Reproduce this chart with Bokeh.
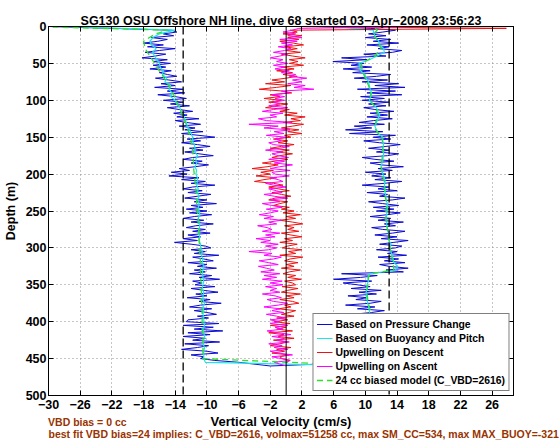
from bokeh.plotting import figure
from bokeh.models import (Range1d, Span, Legend, LegendItem, LinearAxis, Title,
                          FixedTicker, CustomJSTickFormatter)
from bokeh.embed import file_html
from bokeh.resources import INLINE

# ---------------- data ----------------
title_text = "SG130 OSU Offshore NH line, dive 68 started 03\u2212Apr\u22122008 23:56:23"
x_label = "Vertical Velocity (cm/s)"
y_label = "Depth (m)"
note_1 = "VBD bias = 0 cc"
note_2 = "best fit VBD bias=24 implies: C_VBD=2616, volmax=51258 cc, max SM_CC=534, max MAX_BUOY=-321"

x_min, x_max = -30, 28.7
y_top, y_bottom = 0, 500
x_ticks = [-30, -26, -22, -18, -14, -10, -6, -2, 2, 6, 10, 14, 18, 22, 26]
x_tick_labels = ["\u221230", "\u221226", "\u221222", "\u221218", "\u221214", "\u221210",
                 "\u22126", "\u22122", "2", "6", "10", "14", "18", "22", "26"]
y_ticks = [0, 50, 100, 150, 200, 250, 300, 350, 400, 450, 500]
note_1_center = -25.1          # x position (cm/s) under which note 1 is centred

zero_line = 0
bound_lines = [-13, 13]

fine_step, coarse_step = 2.5, 5    # depth sampling (m)
bottom_depth = 460                 # deepest point of the dive (m)

# vertical velocity from pressure change (cm/s), descent 0 -> 455 m every 2.5 m
w_press_desc = [
    -30.0, -22.0, -14.5, -13.8, -15.5, -14.2, -17.0, -15.0, -16.2, -18.0,
    -15.5, -17.5, -14.0, -16.0, -17.8, -15.2, -16.5, -18.2, -15.0, -16.8,
    -14.6, -16.8, -15.2, -17.2, -14.5, -16.0, -15.0, -13.8, -16.5, -14.8,
    -13.2, -15.8, -14.0, -16.6, -13.0, -15.0, -12.8, -16.2, -14.0, -12.6,
    -15.5, -13.0, -14.6, -12.2, -15.0, -13.5, -11.8, -14.2, -12.5, -13.8,
    -11.0, -14.0, -12.6, -10.8, -13.5, -11.5, -12.8, -10.5, -13.2, -11.0,
    -9.0, -12.5, -10.8, -13.2, -11.2, -9.6, -12.2, -10.5, -12.8, -11.0,
    -9.2, -11.8, -13.0, -10.6, -12.0, -9.8, -11.5, -13.5, -12.2, -14.5,
    -12.5, -14.8, -11.0, -13.2, -10.2, -12.0, -9.0, -11.8, -13.0, -10.6,
    -12.4, -9.5, -11.2, -12.8, -10.0, -11.6, -8.8, -12.0, -10.5, -12.6,
    -10.0, -12.2, -9.4, -11.6, -13.0, -10.4, -12.0, -9.2, -11.4, -12.6,
    -10.2, -11.8, -9.6, -12.4, -10.8, -13.0, -11.2, -14.1, -12.0, -10.2,
    -9.5, -12.0, -10.2, -11.6, -8.5, -11.8, -10.4, -9.2, -12.4, -10.0,
    -11.2, -8.8, -11.6, -10.2, -12.2, -9.4, -11.0, -8.4, -11.8, -10.6,
    -11.5, -9.0, -12.0, -10.4, -8.6, -11.4, -10.0, -12.5, -9.6, -11.0,
    -8.2, -10.8, -12.2, -9.4, -11.6, -10.0, -8.8, -11.2, -9.8, -12.4,
    -12.6, -8.5, -13.0, -9.2, -11.6, -8.0, -12.4, -9.6, -13.0, -10.2,
    -11.8, -8.4, -12.8, -9.8, -11.2, -13.2, -10.0, -8.6, -12.0, -10.4,
    -10.8, -9.0, -6.0]
# ascent 460 -> 0 m every 2.5 m
w_press_asc = [
    -2.0, 4.0, 9.5, 12.5, 11.0,
    13.0, 10.2, 12.8, 9.8, 11.6, 13.6, 10.4, 12.2, 9.6, 13.2,
    11.0, 12.6, 9.4, 11.8, 13.4, 10.6, 12.0, 9.8, 12.8, 11.2,
    12.0, 9.6, 11.2, 8.4, 10.8, 12.4, 9.0, 11.2, 7.5, 10.6,
    12.0, 8.8, 10.2, 7.8, 11.4, 9.2, 12.0, 8.2, 10.6, 9.0,
    7.2, 10.8, 6.0, 9.4, 11.5, 7.0, 14.8, 12.6, 15.4, 13.0,
    11.8, 15.0, 12.4, 14.2, 11.6, 15.2, 12.8, 14.0, 11.4, 13.8,
    14.6, 11.8, 13.6, 15.4, 12.0, 14.0, 11.2, 13.4, 15.0, 12.2,
    10.8, 13.8, 12.4, 14.8, 11.6, 13.2, 10.6, 12.8, 14.4, 11.4,
    13.6, 11.0, 14.2, 12.2, 10.4, 13.4, 15.0, 11.8, 12.8, 10.2,
    14.0, 11.6, 13.0, 9.6, 12.4, 14.6, 11.2, 13.2, 10.8, 12.6,
    10.0, 13.4, 11.6, 14.8, 12.0, 10.6, 13.6, 11.2, 9.6, 12.8,
    14.2, 11.4, 13.0, 10.4, 12.6, 14.4, 11.8, 9.8, 13.2, 11.0,
    13.8, 8.0, 12.2, 7.5, 10.8, 8.6, 12.4, 9.2, 11.0, 13.4,
    10.2, 12.8, 10.6, 13.6, 11.2, 9.8, 12.6, 10.4, 13.0, 9.6,
    12.4, 9.4, 14.6, 10.2, 13.8, 9.0, 15.0, 11.2, 14.2, 9.6,
    12.8, 8.6, 11.4, 13.2, 8.4, 10.6, 7.2, 10.8, 8.2, 9.8,
    5.9, 10.2, 7.0, 12.6, 9.8, 13.4, 14.6, 11.6, 13.0, 10.2,
    14.2, 11.0, 13.2, 10.0, 12.6, 10.4, 12.2, 13.8, 10.6, 4.0]

# vertical velocity from buoyancy and pitch (cm/s), every 5 m
w_buoy_desc = [
    -28.0, -14.0, -16.0, -16.8, -17.2, -17.0, -16.4, -16.9, -16.6, -16.3,
    -16.0, -15.9, -15.5, -15.6, -15.1, -15.3, -14.6, -14.8, -14.4, -14.6,
    -14.0, -13.8, -13.4, -13.3, -13.0, -12.8, -12.6, -12.5, -12.2, -12.0,
    -11.8, -11.8, -11.6, -11.5, -11.5, -11.2, -11.4, -11.3, -11.5, -11.3,
    -11.4, -11.2, -11.2, -11.3, -11.1, -11.2, -11.0, -11.2, -11.0, -11.1,
    -11.0, -10.9, -11.1, -11.0, -10.9, -11.0, -11.1, -10.9, -11.0, -10.8,
    -10.8, -10.6, -10.7, -10.5, -10.6, -10.4, -10.5, -10.6, -10.5, -10.4,
    -10.5, -10.6, -10.4, -10.5, -10.5, -10.3, -10.5, -10.4, -10.5, -10.4,
    -10.4, -10.3, -10.5, -10.4, -10.3, -10.4, -10.5, -10.3, -10.4, -10.4,
    -10.4, -10.2]
w_buoy_asc = [
    11.0, 11.2, 11.5, 11.7, 11.8, 11.6, 11.6, 11.4, 11.5, 11.3,
    11.4, 11.3, 11.3, 10.9, 10.6, 10.5, 10.4, 10.3, 10.2, 10.1,
    10.1, 10.2, 10.2, 10.4, 10.3, 10.5, 13.8, 14.1, 13.6, 13.5,
    13.4, 13.2, 13.1, 13.2, 13.0, 13.0, 12.9, 12.8, 12.7, 12.7,
    12.6, 12.7, 12.7, 12.8, 12.8, 12.6, 12.6, 12.5, 12.5, 12.4,
    12.5, 12.4, 12.2, 12.1, 12.0, 12.1, 12.2, 12.3, 12.3, 12.2,
    12.3, 12.2, 12.2, 11.6, 11.4, 11.2, 11.4, 11.6, 11.8, 11.6,
    11.4, 10.9, 10.5, 10.7, 10.8, 10.6, 10.5, 10.4, 10.1, 9.9,
    9.4, 9.3, 9.2, 10.5, 11.5, 12.4, 12.3, 11.8, 11.7, 11.3,
    11.1, 11.0, 6.0]

# upwelling (cm/s), every 2.5 m
upwell_desc = [
    1.0, 27.8, 0.5, 1.4, -0.4, 2.0, 0.2, 1.6, -0.8, 0.9,
    2.2, -0.2, 1.4, 0.0, 1.8, -0.6, 0.8, 2.4, 0.4, 1.5,
    0.4, 2.2, -0.6, 1.0, -1.2, 0.8, -0.4, 1.4, 0.0, -1.8,
    -0.2, -2.6, 0.6, -1.2, -3.4, -0.4, 0.7, -2.0, -0.8, -2.8,
    -0.6, -2.2, 0.2, -1.4, -2.6, 0.4, -0.8, 1.4, -0.2, 2.4,
    0.6, 1.8, -0.4, 2.2, 0.8, -0.6, 1.6, 0.2, 2.0, -0.2,
    0.6, -1.6, 0.2, -1.0, 1.0, -0.6, -2.0, 0.4, -1.2, 0.8,
    -0.8, -1.8, 0.2, -1.4, -3.0, -1.0, -2.4, -4.3, -1.6, -3.2,
    -2.0, -3.8, -1.2, -2.8, -4.0, -1.6, -0.4, -2.2, -1.0, 0.4,
    -1.8, -0.6, 0.6, -1.4, -2.2, 0.2, -0.8, -1.6, 0.4, -0.6,
    1.0, -0.4, 1.8, 0.0, 1.2, -0.8, 0.8, 2.1, -0.2, 1.0,
    0.2, 1.6, -0.6, 0.6, 2.0, -0.2, 0.8, -0.8, 1.4, 0.2,
    -0.5, 2.0, 0.3, 1.2, -0.8, 2.1, 0.5, -0.2, 1.5, 0.0,
    1.0, -0.6, 1.8, 0.4, -0.4, 1.2, 0.2, 1.9, -0.2, 0.8,
    1.2, -0.5, 1.5, 0.2, -0.6, 1.8, 0.0, 1.0, -0.8, 0.8,
    1.6, -0.2, 0.6, -1.0, 1.2, 0.4, -0.6, 1.0, -1.2, 0.2,
    -1.5, 0.5, -2.0, 0.0, -1.2, 0.8, -2.2, -0.3, -1.0, 1.0,
    -1.6, 0.2, -0.8, -2.0, 0.6, -1.2, -0.2, -1.8, 0.4, -0.8,
    -0.5, 0.5, 0.0]
upwell_asc = [
    0.0, -0.8, -1.5, 0.5, -0.6,
    -1.8, 0.8, -1.0, -2.0, 0.2, -1.5, -0.5, -2.2, 0.4, -1.2,
    -0.2, -1.8, 0.6, -1.0, -2.4, -0.4, -1.4, 0.2, -2.0, -0.8,
    -2.0, 0.0, -1.2, -2.5, -0.3, -1.8, -0.8, -2.8, -1.0, 0.2,
    -1.6, -2.4, -0.6, -1.4, -3.0, -0.8, -2.0, -1.2, -2.6, -0.4,
    -2.0, -0.5, -3.0, -1.2, -2.8, -0.8, -3.2, -1.5, -2.5, -3.5,
    -1.0, -2.2, -3.4, -1.6, -0.6, -2.8, -1.8, -4.7, -2.2, -1.2,
    -2.6, -1.0, -3.2, -2.0, -3.8, -1.4, -2.6, -0.8, -3.0, -1.8,
    -2.4, -3.6, -1.2, -2.2, -0.6, -2.8, -1.6, -3.4, -2.0, -1.0,
    -2.5, -0.5, -1.8, -3.0, -0.8, -2.0, 0.2, -1.5, -2.8, -0.5,
    -1.2, -2.2, 0.0, -1.6, -2.6, -0.4, -1.0, -2.0, 0.4, -1.4,
    -1.8, 0.5, -2.0, -0.8, 0.8, -1.5, -0.2, -2.2, 0.3, -1.0,
    -1.8, -0.4, -2.6, -0.8, 0.4, -1.6, -2.2, -0.6, -1.4, 0.0,
    -2.5, -0.3, -1.5, 0.5, -2.8, -1.0, -4.7, 0.75, -2.5, -3.5,
    -1.2, -2.0, -0.4, -3.0, -1.6, 0.2, -2.2, -0.8, -1.6, -0.2,
    -1.4, -0.2, -1.8, 0.4, -0.6, 3.5, 1.0, 2.4, 0.2, 2.0,
    0.8, 2.6, 0.4, 1.2, -0.6, 0.4, -1.4, -0.2, -1.6, 0.2,
    -1.2, -0.4, -2.0, -0.8, 0.2, -1.6, -0.2, 0.6, -1.0, 0.8,
    -0.6, 1.4, -0.8, 2.0, 0.2, 1.2, -0.4, 0.8, 1.6, 18.0]

# 24 cc biased model (cm/s)
model_desc_depth = [0, 5, 10, 20, 30, 40, 50, 60, 70, 80, 90, 100, 110, 120, 130, 140,
                    150, 160, 170, 180, 190, 200, 210, 220, 230, 240, 250, 260, 270,
                    280, 290, 300, 310, 320, 330, 340, 350, 360, 370, 380, 390, 400,
                    410, 420, 430, 440, 450]
model_desc = [-32.0, -15.0, -16.5, -18.0, -17.8, -17.2, -16.6, -16.0, -15.4, -14.8,
              -14.3, -13.9, -13.5, -13.1, -12.7, -12.4, -12.1, -11.9, -11.8, -11.7,
              -11.7, -11.6, -11.5, -11.4, -11.3, -11.3, -11.2, -11.1, -11.1, -11.0,
              -11.0, -10.9, -10.9, -10.8, -10.8, -10.8, -10.7, -10.7, -10.7, -10.6,
              -10.6, -10.6, -10.6, -10.5, -10.5, -10.5, -10.5]
model_asc_depth = [460, 450, 440, 430, 420, 410, 400, 390, 380, 370, 360, 350, 340, 335,
                   330, 320, 310, 300, 290, 280, 270, 260, 250, 240, 230, 220, 210, 200,
                   190, 180, 170, 160, 150, 140, 130, 120, 110, 100, 90, 80, 70, 60, 50,
                   40, 30, 20, 10, 5, 0]
model_asc = [11.0, 11.6, 11.8, 11.6, 11.5, 11.4, 11.2, 10.8, 10.5, 10.3, 10.2, 10.3, 10.4,
             10.6,
             13.6, 13.5, 13.3, 13.1, 13.0, 12.9, 12.7, 12.6, 12.6, 12.7, 12.5, 12.4, 12.4,
             12.1, 12.0, 12.1, 12.2, 12.2, 12.1, 11.3, 11.3, 11.6, 11.3, 10.6, 10.7, 10.4,
             10.0, 9.6, 9.5, 11.2, 12.0, 11.6, 11.0,
             11.5, 11.0]

series_names = ["Based on Pressure Change", "Based on Buoyancy and Pitch",
                "Upwelling on Descent", "Upwelling on Ascent",
                "24 cc biased model (C_VBD=2616)"]


def down_depths(values, step):
    return [i * step for i in range(len(values))]


def up_depths(values, step):
    return [bottom_depth - i * step for i in range(len(values))]


# ---------------- style ----------------
FONT = "Liberation Sans"
BROWN = "#993300"
C_BLUE = "#0a0ad2"
C_CYAN = "#1ee6e6"
C_RED = "#ee1111"
C_MAG = "#ff00ff"
C_GREEN = "#2ee02e"

p = figure(width=560, height=442,
           x_range=Range1d(x_min, x_max), y_range=Range1d(y_bottom, y_top),
           output_backend="svg", toolbar_location=None, title=title_text,
           min_border_left=45, min_border_right=47, min_border_top=26,
           min_border_bottom=47)
p.background_fill_color = "white"
p.border_fill_color = "white"
p.outline_line_color = "black"
p.outline_line_width = 1

p.title.align = "center"
p.title.text_font = FONT
p.title.text_font_style = "bold"
p.title.text_font_size = "12.5px"
p.title.text_color = "black"
p.title.standoff = -2

for ax in (p.xaxis[0], p.yaxis[0]):
    ax.major_label_text_font = FONT
    ax.major_label_text_font_style = "bold"
    ax.major_label_text_font_size = "12.5px"
    ax.major_label_text_color = "black"
    ax.axis_label_text_font = FONT
    ax.axis_label_text_font_style = "bold"
    ax.axis_label_text_color = "black"
    ax.major_tick_in = 5
    ax.major_tick_out = 0
    ax.minor_tick_line_color = None
    ax.axis_line_color = "black"
    ax.major_tick_line_color = "black"

p.xaxis.ticker = FixedTicker(ticks=x_ticks)
p.xaxis.major_label_overrides = dict(zip(x_ticks, x_tick_labels))
p.xaxis.axis_label = x_label
p.xaxis.axis_label_text_font_size = "13px"
p.xaxis.major_label_standoff = 4
p.xaxis.axis_label_standoff = 2

p.yaxis.ticker = FixedTicker(ticks=y_ticks)
p.yaxis.axis_label = y_label
p.yaxis.axis_label_text_font_size = "12.5px"
p.yaxis.major_label_standoff = 2
p.yaxis.axis_label_standoff = 5

# second note (placed right under the x axis)
p.add_layout(Title(text=note_2, align="left", vertical_align="top", standoff=-7,
                   text_color=BROWN, text_font=FONT, text_font_style="bold",
                   text_font_size="10.5px"), "below")
# first note, lifted onto the row of the x-axis title
note_axis = LinearAxis(ticker=FixedTicker(ticks=[note_1_center]),
                       major_label_overrides={note_1_center: note_1},
                       major_label_text_color=BROWN, major_label_text_font=FONT,
                       major_label_text_font_style="bold",
                       major_label_text_font_size="10.5px",
                       major_label_standoff=-23, major_tick_in=0, major_tick_out=0,
                       major_tick_line_color=None, minor_tick_line_color=None,
                       axis_line_color=None)
p.add_layout(note_axis, "below")

# box ticks on top and right
blank = CustomJSTickFormatter(code="return ''")
top_ax = LinearAxis(ticker=FixedTicker(ticks=x_ticks), formatter=blank,
                    major_tick_in=5, major_tick_out=0, minor_tick_line_color=None,
                    major_label_standoff=0, major_label_text_font_size="1px")
right_ax = LinearAxis(ticker=FixedTicker(ticks=y_ticks), formatter=blank,
                      major_tick_in=5, major_tick_out=0, minor_tick_line_color=None,
                      major_label_standoff=0, major_label_text_font_size="1px")
p.add_layout(top_ax, "above")
p.add_layout(right_ax, "right")

p.xgrid.ticker = FixedTicker(ticks=x_ticks)
p.ygrid.ticker = FixedTicker(ticks=y_ticks)
p.grid.grid_line_color = "#8c8c8c"
p.grid.grid_line_dash = "1 3"
p.grid.grid_line_width = 1

# data lines
r_blue = p.line(w_press_desc + w_press_asc,
                down_depths(w_press_desc, fine_step) + up_depths(w_press_asc, fine_step),
                line_color=C_BLUE, line_width=1)
r_cyan = p.line(w_buoy_desc + w_buoy_asc,
                down_depths(w_buoy_desc, coarse_step) + up_depths(w_buoy_asc, coarse_step),
                line_color=C_CYAN, line_width=1.2)
r_red = p.line(upwell_desc, down_depths(upwell_desc, fine_step),
               line_color=C_RED, line_width=1)
r_mag = p.line(upwell_asc, up_depths(upwell_asc, fine_step),
               line_color=C_MAG, line_width=1)
r_green = p.line(model_desc + model_asc, model_desc_depth + model_asc_depth,
                 line_color=C_GREEN, line_width=1.3, line_dash="6 4")

p.add_layout(Span(location=zero_line, dimension="height", line_color="black",
                  line_width=1))
for b in bound_lines:
    p.add_layout(Span(location=b, dimension="height", line_color="black",
                      line_width=1.3, line_dash="8 4"))

legend = Legend(items=[LegendItem(label=n, renderers=[r]) for n, r in
                       zip(series_names, [r_blue, r_cyan, r_red, r_mag, r_green])],
                location="bottom_right")
legend.label_text_font = FONT
legend.label_text_font_style = "bold"
legend.label_text_font_size = "10.4px"
legend.label_text_color = "black"
legend.label_height = 14
legend.glyph_height = 14
legend.glyph_width = 16
legend.label_standoff = 3
legend.spacing = 0
legend.padding = 3
legend.margin = 4
legend.border_line_color = "black"
legend.border_line_width = 1
legend.background_fill_color = "white"
legend.background_fill_alpha = 1
p.add_layout(legend)

open("out.html", "w").write(file_html(p, INLINE))
